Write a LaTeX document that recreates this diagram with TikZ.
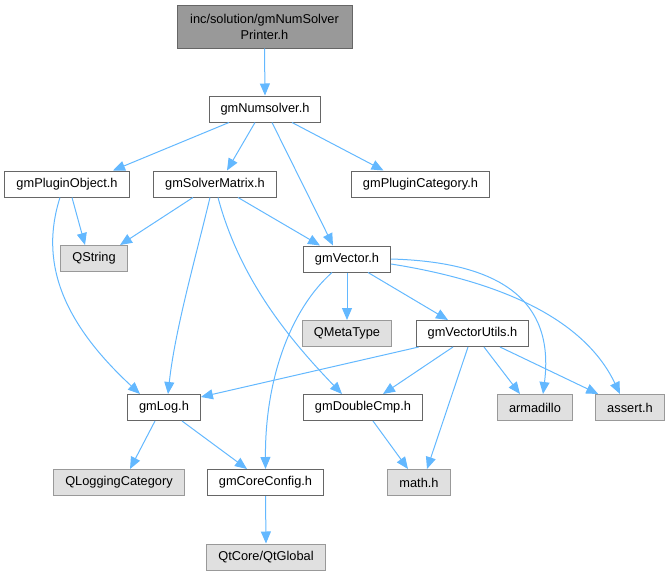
\documentclass[tikz,border=0pt]{standalone}
\usepackage{fontspec}
\setmainfont{Liberation Sans}
\usetikzlibrary{arrows.meta}

\definecolor{edgeblue}{HTML}{63B8FF}
\definecolor{rootgray}{HTML}{999999}
\definecolor{boxline}{HTML}{666666}
\definecolor{sysfill}{HTML}{E0E0E0}
\definecolor{sysline}{HTML}{999999}

\begin{document}
\begin{tikzpicture}[x=1pt,y=-1pt,
      nodes={minimum height=26pt, inner xsep=11.5pt, inner ysep=0pt,
             font=\fontsize{12.8}{16}\selectfont, line width=1pt},
      hfile/.style={draw=boxline,fill=white,rectangle},
      sysfile/.style={draw=sysline,fill=sysfill,rectangle},
      rootfile/.style={draw=boxline,fill=rootgray,rectangle},
      edge/.style={draw=edgeblue,line width=1pt,-{Triangle[length=12pt,width=10pt]}}]
    \useasboundingbox (0,0) rectangle (670,576);

    \node[rootfile,minimum width=175pt,minimum height=43pt,align=center](n0) at (264.5,26.5){inc/solution/gmNumSolver\\Printer.h};
    \node[hfile](n1) at (265,109){gmNumsolver.h};
    \node[hfile](n2) at (67,184){gmPluginObject.h};
    \node[hfile](n3) at (215,184){gmSolverMatrix.h};
    \node[hfile](n4) at (420.5,184){gmPluginCategory.h};
    \node[sysfile](n5) at (94,258.5){QString};
    \node[hfile](n6) at (347,259){gmVector.h};
    \node[sysfile](n7) at (347,333.5){QMetaType};
    \node[hfile](n8) at (472.5,333.5){gmVectorUtils.h};
    \node[hfile](n9) at (164,407.5){gmLog.h};
    \node[hfile](n10) at (363,407.5){gmDoubleCmp.h};
    \node[sysfile](n11) at (535,407.5){armadillo};
    \node[sysfile](n12) at (630,407.5){assert.h};
    \node[sysfile](n13) at (119,482.5){QLoggingCategory};
    \node[hfile](n14) at (265.5,482.5){gmCoreConfig.h};
    \node[sysfile](n15) at (419,482.5){math.h};
    \node[sysfile](n16) at (266,557){QtCore/QtGlobal};

    \draw[edge] (n0.south) -- (n1.north);
    \draw[edge] ([xshift=-36pt]n1.south) -- ([xshift=46pt]n2.north);
    \draw[edge] ([xshift=-10pt]n1.south) -- ([xshift=12pt]n3.north);
    \draw[edge] ([xshift=7pt]n1.south) -- ([xshift=-14pt]n6.north);
    \draw[edge] ([xshift=27pt]n1.south) -- ([xshift=-37pt]n4.north);

    \draw[edge] ([xshift=5pt]n2.south) -- ([xshift=-9pt]n5.north);
    \draw[edge] ([xshift=-7pt]n2.south) .. controls (40,260) and (60,320) .. ([xshift=-24pt]n9.north);

    \draw[edge] ([xshift=-22pt]n3.south) -- ([xshift=26pt]n5.north);
    \draw[edge] ([xshift=23pt]n3.south) -- ([xshift=-27pt]n6.north);
    \draw[edge] ([xshift=-5pt]n3.south) .. controls (195,260) and (175,330) .. ([xshift=4pt]n9.north);
    \draw[edge] ([xshift=3pt]n3.south) .. controls (240,280) and (290,340) .. ([xshift=-21pt]n10.north);

    \draw[edge] (n6.south) -- (n7.north);
    \draw[edge] ([xshift=21pt]n6.south) -- ([xshift=-24.5pt]n8.north);
    \draw[edge] ([xshift=-15pt]n6.south) .. controls (290,310) and (265,380) .. (n14.north);
    \draw[edge] (n6.east) .. controls (500,262) and (555,300) .. ([xshift=8pt]n11.north);
    \draw[edge] ([yshift=-5pt]n6.east) .. controls (480,278) and (580,310) .. ([xshift=-10pt]n12.north);

    \draw[edge] ([xshift=3pt]n8.south west) -- ([yshift=-3pt]n9.north east);
    \draw[edge] ([xshift=-19.5pt]n8.south) -- ([xshift=20pt]n10.north);
    \draw[edge] ([xshift=-4.5pt]n8.south) -- ([xshift=8pt]n15.north);
    \draw[edge] ([xshift=11.5pt]n8.south) -- ([xshift=-15pt]n11.north);
    \draw[edge] ([xshift=27.5pt]n8.south) -- ([xshift=3pt]n12.north west);

    \draw[edge] ([xshift=-9pt]n9.south) -- ([xshift=11pt]n13.north);
    \draw[edge] ([xshift=18pt]n9.south) -- ([xshift=-18.5pt]n14.north);
    \draw[edge] ([xshift=10pt]n10.south) -- ([xshift=-11pt]n15.north);
    \draw[edge] (n14.south) -- (n16.north);

\end{tikzpicture}
\end{document}
